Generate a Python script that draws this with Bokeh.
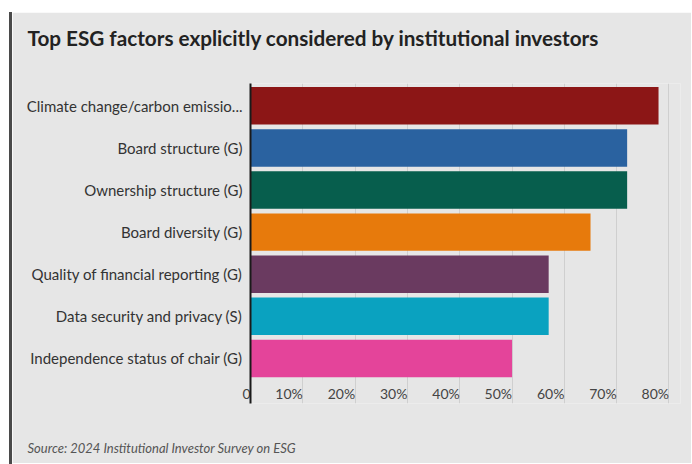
from bokeh.plotting import figure
from bokeh.models import ColumnDataSource, FixedTicker, Range1d, Title, Div, LinearAxis
from bokeh.layouts import row
from bokeh.embed import file_html
from bokeh.resources import INLINE

# ---- data ----
categories = [
    "Climate change/carbon emissio...",
    "Board structure (G)",
    "Ownership structure (G)",
    "Board diversity (G)",
    "Quality of financial reporting (G)",
    "Data security and privacy (S)",
    "Independence status of chair (G)",
]
values = [78, 72, 72, 65, 57, 57, 50]
colors = ["#8c1616", "#2a62a0", "#075e4d", "#e77a0c", "#6a3a60", "#0aa2c0", "#e4449a"]
x_ticks = [0, 10, 20, 30, 40, 50, 60, 70, 80]
x_tick_labels = ["0", "10%", "20%", "30%", "40%", "50%", "60%", "70%", "80%"]
title_text = "Top ESG factors explicitly considered by institutional investors"
source_text = "Source: 2024 Institutional Investor Survey on ESG"

n = len(categories)
ypos = [n - i - 0.5 for i in range(n)]

src = ColumnDataSource(dict(y=ypos, value=values, color=colors, cat=categories))

BG = "#e6e6e6"


def spacer_axis(size):
    # an invisible axis used only to reserve space in a side panel
    return LinearAxis(ticker=FixedTicker(ticks=[40]), major_label_overrides={40: ""},
                      major_tick_out=size, major_tick_in=0, minor_tick_out=0, minor_tick_in=0,
                      major_label_standoff=0, major_label_text_font_size="0px",
                      major_tick_line_color=None, minor_tick_line_color=None,
                      axis_line_color=None)


p = figure(
    width=679, height=451,
    x_range=Range1d(0, 82.2), y_range=Range1d(-0.57, 7.03),
    output_backend="svg", toolbar_location=None,
    min_border_left=238, min_border_right=11, min_border_top=71, min_border_bottom=60,
    margin=(12, 0, 0, 0),
)
p.background_fill_color = BG
p.border_fill_color = BG
p.outline_line_color = None

p.hbar(y="y", left=0, right="value", height=0.89, fill_color="color", line_color=None, source=src)

# y axis
yax = p.left[0]
yax.ticker = FixedTicker(ticks=ypos)
yax.major_label_overrides = {y: c for y, c in zip(ypos, categories)}
yax.major_label_text_font = "Lato"
yax.major_label_text_font_size = "15px"
yax.major_label_text_color = "#333333"
yax.major_label_standoff = 2
yax.major_tick_line_color = None
yax.minor_tick_line_color = None
yax.axis_line_color = "#1a1a1a"
yax.axis_line_width = 2

# x axis (labels drawn just inside the bottom of the frame)
xax = p.below[0]
xax.ticker = FixedTicker(ticks=x_ticks)
xax.major_label_overrides = {t: l for t, l in zip(x_ticks, x_tick_labels)}
xax.major_label_text_font = "Lato"
xax.major_label_text_font_size = "14px"
xax.major_label_text_color = "#444444"
xax.major_label_orientation = 0.0001
xax.major_label_standoff = -16
xax.major_tick_line_color = None
xax.minor_tick_line_color = None
xax.axis_line_color = None

p.xgrid.ticker = FixedTicker(ticks=x_ticks)
p.xgrid.grid_line_color = "#cfcfcf"
p.ygrid.grid_line_color = None

# title (with an invisible spacer axis between it and the frame)
p.add_layout(spacer_axis(29), "above")
p.title.text = title_text
p.title.text_font = "Lato"
p.title.text_font_style = "bold"
p.title.text_font_size = "20.7px"
p.title.text_color = "#222222"
p.title.align = "left"
p.title.offset = -223
p.title.standoff = 10

# source note below
p.add_layout(spacer_axis(19), "below")
p.add_layout(Title(text=source_text, text_font="Lato", text_font_style="italic",
                   text_font_size="13px", text_color="#555555", align="left",
                   offset=-223, standoff=10), "below")

bar = Div(width=3, height=452, margin=(12, 0, 0, 9), styles={"background-color": "#4a4a4a"})
layout = row(bar, p, spacing=0)

open("out.html", "w").write(file_html(layout, INLINE))
